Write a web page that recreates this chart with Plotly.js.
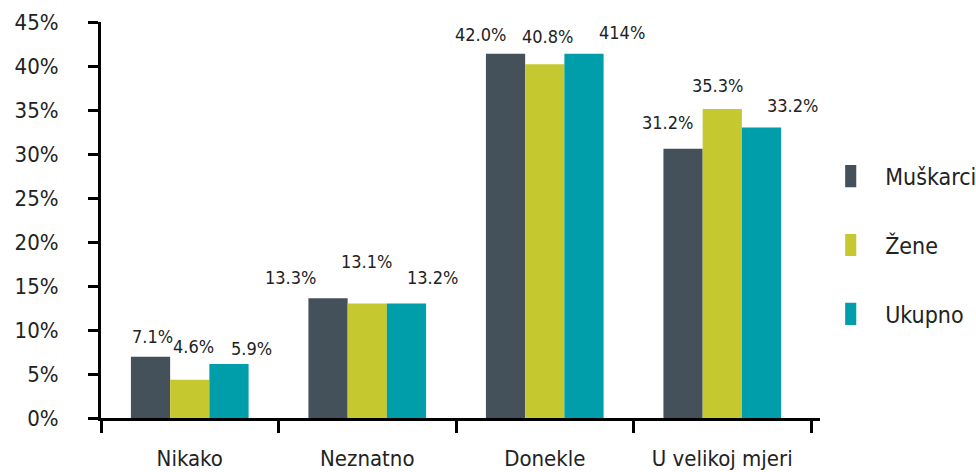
<!DOCTYPE html>
<html>
<head>
<meta charset="utf-8">
<script src="https://cdn.plot.ly/plotly-3.0.1.min.js"></script>
<style>html,body{margin:0;padding:0;background:#fff;}#chart{width:976px;height:472px;}</style>
</head>
<body>
<div id="chart"></div>
<script>
// ---- data ----
const categories = ["Nikako", "Neznatno", "Donekle", "U velikoj mjeri"];
const seriesNames = ["Muškarci", "Žene", "Ukupno"];
const muskarci = [6.95, 13.6, 41.4, 30.6];
const zene     = [4.35, 13.0, 40.2, 35.1];
const ukupno   = [6.15, 13.0, 41.4, 33.0];
const labelsMuskarci = ["7.1%", "13.3%", "42.0%", "31.2%"];
const labelsZene     = ["4.6%", "13.1%", "40.8%", "35.3%"];
const labelsUkupno   = ["5.9%", "13.2%", "414%", "33.2%"];
const yTickVals = [0, 5, 10, 15, 20, 25, 30, 35, 40, 45];

// ---- styling ----
const colors = ["#44515A", "#C5C82F", "#009DAB"];
const FONT = "'DejaVu Sans Condensed', 'DejaVu Sans', sans-serif";
const TXT = "#222222";
const BARGAP = 0.337;
// pixel nudges for value labels (dx, dy above bar top)
const labelDx = [[2, -38, -25, -16], [4, -1, 3, -5], [23, 26, 38, 31]];
const labelDy = [[20, 21, 19, 26], [33, 42, 28, 24], [15, 26, 21, 22]];

const values = [muskarci, zene, ukupno];
const labels = [labelsMuskarci, labelsZene, labelsUkupno];

const traces = values.map((v, j) => ({
  type: "bar",
  name: seriesNames[j],
  x: categories,
  y: v,
  legendgroup: "g" + j,
  marker: { color: colors[j], line: { width: 0 } },
  hoverinfo: "skip"
}));

const barW = (1 - BARGAP) / values.length;
const annotations = [];
values.forEach((v, j) => {
  v.forEach((val, i) => {
    annotations.push({
      xref: "x", yref: "y",
      x: i + (j - (values.length - 1) / 2) * barW,
      y: val,
      text: labels[j][i],
      showarrow: false,
      xanchor: "center", yanchor: "middle",
      xshift: labelDx[j][i],
      yshift: labelDy[j][i],
      font: { family: FONT, size: 18, color: TXT }
    });
  });
});

const layout = {
  width: 976, height: 472,
  margin: { l: 101, r: 156, t: 22, b: 54, autoexpand: false },
  paper_bgcolor: "#fff", plot_bgcolor: "#fff",
  barmode: "group", bargap: BARGAP, bargroupgap: 0,
  font: { family: FONT, color: TXT },
  showlegend: true,
  legend: {
    x: 1.035, xanchor: "left", y: 0.665, yanchor: "top",
    traceorder: "grouped", tracegroupgap: 36,
    font: { family: FONT, size: 23, color: TXT },
    bgcolor: "rgba(0,0,0,0)"
  },
  xaxis: {
    type: "category",
    showline: true, linecolor: "#000", linewidth: 3,
    ticks: "outside", tickson: "boundaries", ticklen: 12, tickwidth: 3, tickcolor: "#000",
    showgrid: false, zeroline: false,
    tickangle: 0, automargin: false,
    tickfont: { family: FONT, size: 22, color: TXT },
    ticklabelstandoff: 19,
    fixedrange: true
  },
  yaxis: {
    range: [0, 45],
    tickvals: yTickVals,
    ticktext: yTickVals.map(v => v + "%"),
    showline: true, linecolor: "#000", linewidth: 3,
    ticks: "outside", ticklen: 10, tickwidth: 3, tickcolor: "#000",
    showgrid: false, zeroline: false, automargin: false,
    tickfont: { family: FONT, size: 22, color: TXT },
    ticklabelstandoff: 25,
    fixedrange: true
  },
  annotations: annotations
};

Plotly.newPlot("chart", traces, layout, { displayModeBar: false, staticPlot: true }).then(() => {
  document.querySelectorAll(".legend .legendpoints path").forEach(p => {
    p.setAttribute("transform", "scale(1.85)");
  });
});
</script>
</body>
</html>
